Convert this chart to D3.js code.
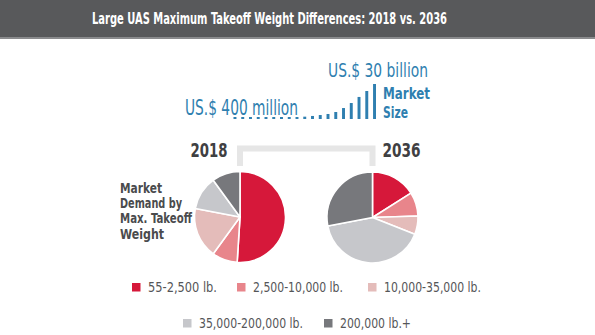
<!DOCTYPE html>
<html><head><meta charset="utf-8">
<script src="https://cdn.jsdelivr.net/npm/d3@7"></script>
<style>
html,body{margin:0;padding:0;background:#fff;}
svg{display:block;}
</style></head>
<body>
<svg id="chart" width="595" height="335"></svg>
<script>
// ---- data ----
const title = "Large UAS Maximum Takeoff Weight Differences: 2018 vs. 2036";
const categories = ["55-2,500 lb.", "2,500-10,000 lb.", "10,000-35,000 lb.", "35,000-200,000 lb.", "200,000 lb.+"];
const share2018 = [51, 9, 18, 12, 10];
const share2036 = [16, 8.5, 6.5, 41, 28];
const marketYears = d3.range(2018, 2037);
const marketSize = [0.4, 0.5, 0.6, 0.7, 0.8, 0.9, 1.0, 1.2, 1.4, 2.0, 2.6, 3.4, 4.3, 6.0, 9.4, 13.7, 18.9, 24.0, 30.0]; // US$ billion
const colors = ["#d6183a", "#e8858b", "#e4bcba", "#c6c7cb", "#77787c"];

const svg = d3.select("#chart");
const narrow = '"Liberation Sans Narrow", "DejaVu Sans Condensed", "Roboto", sans-serif';

// title band
svg.append("rect").attr("x",0).attr("y",0).attr("width",595).attr("height",37).attr("fill","#58595b");
svg.append("rect").attr("x",0).attr("y",37).attr("width",595).attr("height",2).attr("fill","#8a8b8d");
svg.append("text").attr("x",92).attr("y",24).attr("fill","#fff")
  .attr("font-family",narrow).attr("font-weight","bold").attr("font-size",15)
  .attr("textLength",355).attr("lengthAdjust","spacingAndGlyphs").text(title);

// market size bars
const blue = "#2f7fb0";
const x = d3.scaleBand().domain(marketYears).range([233.5, 376]).paddingInner(0.62).paddingOuter(0);
const y = d3.scaleLinear().domain([0, 30]).range([119, 84]);
svg.append("g").selectAll("rect").data(marketSize).join("rect")
  .attr("x",(d,i)=>x(marketYears[i]))
  .attr("width",x.bandwidth())
  .attr("y",d=>Math.min(y(d), 117))
  .attr("height",d=>119-Math.min(y(d),117))
  .attr("fill",blue);

function txt(t, xx, yy, size, weight, color, len){
  const e = svg.append("text").attr("x",xx).attr("y",yy).attr("fill",color)
    .attr("font-family",narrow).attr("font-weight",weight).attr("font-size",size).text(t);
  if(len) e.attr("textLength",len).attr("lengthAdjust","spacingAndGlyphs");
  return e;
}
txt("US.$ 400 million", 185, 115, 21, "normal", blue, 113);
txt("US.$ 30 billion", 328, 77, 20, "normal", blue, 100);
txt("Market", 383, 99, 15, "bold", blue, 47);
txt("Size", 383, 118, 15, "bold", blue, 25);

// years + bracket
const dark = "#3f4042";
txt("2018", 190.5, 157, 20, "bold", dark, 37);
txt("2036", 382.5, 157, 20, "bold", dark, 38);
svg.append("path").attr("d","M240,166 V148.5 H372.5 V166")
  .attr("fill","none").attr("stroke","#e6e6e6").attr("stroke-width",6);

// label
const lab = ["Market","Demand by","Max. Takeoff","Weight"];
const labW = [42, 62, 72, 44];
lab.forEach((l,i)=>txt(l, 120, 193 + i*15.2, 14, "bold", "#4a4b4d", labW[i]));

// pies
const pie = d3.pie().sort(null).value(d=>d);
const arc = d3.arc().innerRadius(0).outerRadius(45.5);
[[share2018, 240, 217], [share2036, 372.5, 217.5]].forEach(([data, cx, cy])=>{
  svg.append("g").attr("transform",`translate(${cx},${cy})`)
    .selectAll("path").data(pie(data)).join("path")
    .attr("d",arc).attr("fill",(d,i)=>colors[i])
    .attr("stroke","#fff").attr("stroke-width",1.6).attr("stroke-linejoin","round");
});

// legend
const legPos = [[132,283],[237,283],[368,283],[183,319],[324,319]];
const legW = [69, 90, 97, 104, 71];
categories.forEach((c,i)=>{
  const [lx,ly] = legPos[i];
  svg.append("rect").attr("x",lx).attr("y",ly).attr("width",8.5).attr("height",8.5).attr("fill",colors[i]);
  txt(c, lx+16, ly+9, 14, "normal", "#555658", legW[i]);
});
</script>
</body></html>
